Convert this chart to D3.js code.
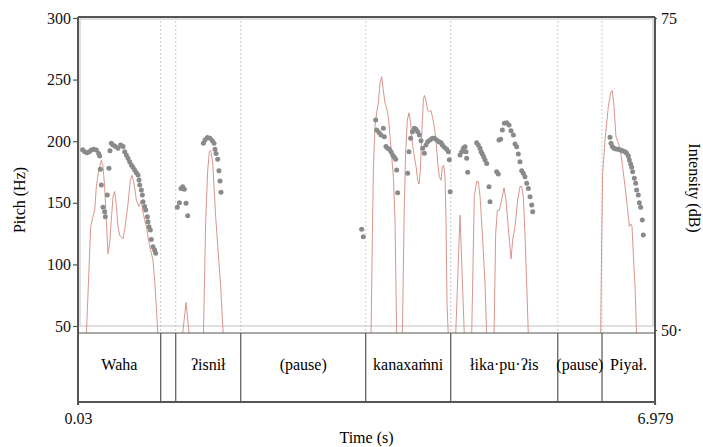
<!DOCTYPE html>
<html lang="en">
<head>
<meta charset="utf-8">
<title>Pitch and intensity</title>
<script src="https://d3js.org/d3.v7.min.js"></script>
<style>
    body { margin: 0; background: #fff; }
    svg { display: block; }
    svg text { font-family: "Liberation Serif", "DejaVu Serif", serif; }
</style>
</head>
<body>
<svg width="703" height="447"></svg>
<script>

// axis ticks
const pitchTicks = [50, 100, 150, 200, 250, 300];
const intensityTicks = [50, 75];
const timeTicks = [0.03, 6.979];

// word tier: interval ends (s) and labels (second interval is empty)
const boundaries = [1.026, 1.207, 1.99, 3.495, 4.519, 5.808, 6.341];
const words = ["Waha", "", "ʔisnił", "(pause)", "kanaxaṁni", "łika·pu·ʔis", "(pause)", "Piyał."];

// pitch points [time s, Hz]
const pitch = [
    [0.086,193],[0.110,191.5],[0.138,190.7],[0.166,191.5],[0.191,192.8],[0.219,193.4],[0.251,192.8],
    [0.279,190.1],[0.291,188],[0.299,177.2],[0.311,164.4],[0.331,146.3],[0.351,142.8],[0.359,138.7],
    [0.383,156.3],[0.403,178],
    [0.415,192.3],[0.431,198.3],[0.452,196.9],[0.480,195.6],[0.512,194.2],[0.544,196.9],[0.572,195.6],
    [0.592,191.5],[0.612,188.8],[0.632,186.1],[0.652,183.4],[0.672,180.7],[0.692,178.8],[0.712,176.6],
    [0.733,174.4],[0.753,172.6],[0.765,168.5],[0.773,164.4],[0.793,160.4],[0.805,156.3],[0.813,150.9],
    [0.833,146.9],[0.845,144.2],[0.865,138.7],[0.873,134.7],[0.885,130.6],[0.901,127.9],[0.913,120.3],
    [0.933,114.4],[0.953,111.7],[0.965,109],
    [1.226,146.3],[1.251,150.1],[1.271,161.7],[1.291,163.1],[1.311,160.9],[1.331,149.6],[1.351,139.5],
    [1.540,198.3],[1.560,201],[1.588,203.1],[1.620,202.3],[1.648,200.4],[1.668,198.3],[1.680,193.4],
    [1.692,190.1],[1.712,185.3],[1.728,176.1],[1.740,167.7],[1.752,158.5],
    [3.446,128.5],[3.466,122.5],
    [3.615,217.2],[3.627,209.1],[3.655,207],[3.679,205],[3.707,210.5],[3.719,203.7],[3.739,195.6],
    [3.759,194.2],[3.779,193.4],[3.800,191.5],[3.820,188.8],[3.840,186.9],[3.856,185.3],[3.868,176.6],
    [3.880,158.2],
    [4.000,173.9],[4.016,191.5],[4.036,202.3],[4.057,207.7],[4.081,210.5],[4.101,209.6],[4.121,207.7],
    [4.141,205],[4.161,200.4],[4.181,194.2],[4.201,190.2],[4.221,196.9],[4.241,199.6],[4.269,201],
    [4.297,202.3],[4.321,202.3],[4.350,201],[4.378,199.6],[4.402,198.8],[4.418,196.9],[4.442,195],
    [4.470,193.4],[4.490,191.5],[4.502,185],[4.512,159],
    [4.631,188.8],[4.651,191.5],[4.671,194.2],[4.691,195.5],[4.703,191.5],[4.711,186.1],[4.723,174.7],
    [4.831,198.8],[4.851,196.9],[4.872,194.2],[4.884,191.5],[4.900,189.6],[4.916,187.4],[4.932,184.7],
    [4.952,182],[4.980,163],[4.992,150.9],
    [5.072,175.2],[5.092,173.3],[5.100,201],[5.120,201.5],[5.141,209.1],[5.165,214.5],[5.193,215],
    [5.221,213.1],[5.245,208.5],[5.273,205],[5.293,197.7],[5.313,195.5],[5.333,189.6],[5.353,183.3],
    [5.373,176],[5.393,173.9],[5.413,171.2],[5.434,165.8],[5.454,161.7],[5.474,154.9],[5.494,148.2],
    [5.506,142.8],
    [6.437,203.2],[6.449,198.3],[6.465,195.6],[6.485,194.2],[6.509,193.7],[6.537,193.4],[6.565,192.9],
    [6.589,192.3],[6.618,191.5],[6.638,190.2],[6.658,188],[6.670,184.8],[6.686,181.5],[6.698,178.8],
    [6.710,175.3],[6.730,169.9],[6.746,165.8],[6.758,160.4],[6.778,156.4],[6.790,150.1],[6.806,146.3],
    [6.826,136.1],[6.838,123.9]
];

// intensity contour [time s, dB]
const intensity = [
    [0.130,49.5],[0.183,58.3],[0.211,59.1],[0.231,59.6],[0.251,61.5],[0.279,62.8],[0.311,63.6],
    [0.331,63.1],[0.351,61.5],[0.371,58.8],[0.391,56.1],[0.411,56.9],[0.431,58.8],[0.452,60.7],
    [0.472,61.1],[0.492,59.9],[0.512,58.3],[0.532,57.6],[0.572,57.3],[0.592,58.0],[0.632,60.1],
    [0.660,62.0],[0.680,62.4],[0.704,61.8],[0.733,60.4],[0.765,59.9],[0.793,60.4],[0.813,59.4],
    [0.853,58.3],[0.893,56.7],[0.933,55.6],[0.953,54.0],[0.973,51.9],[0.993,49.5],
    [1.287,49.5],[1.331,52.2],[1.371,49.5],
    [1.540,49.5],[1.568,58.8],[1.592,62.8],[1.612,64.3],[1.628,64.4],[1.652,63.4],[1.668,61.5],
    [1.688,59.1],[1.720,56.1],[1.748,53.5],[1.780,49.5],
    [3.559,49.5],[3.575,57.5],[3.587,62.8],[3.607,66.3],[3.627,67.4],[3.647,68.2],[3.667,69.8],
    [3.687,70.3],[3.707,69.2],[3.727,68.2],[3.747,67.8],[3.767,67.1],[3.788,65.5],[3.808,63.9],
    [3.828,62.3],[3.848,58.8],[3.868,49.5],
    [3.936,49.5],[3.960,60.1],[3.976,64.2],[3.996,66.8],[4.016,67.4],[4.036,66.6],[4.057,64.9],
    [4.081,63.9],[4.101,63.1],[4.121,62.0],[4.137,61.7],[4.153,62.8],[4.169,65.5],[4.189,68.4],
    [4.201,68.8],[4.221,68.4],[4.241,67.6],[4.257,67.5],[4.281,67.6],[4.301,67.0],[4.321,66.3],
    [4.342,65.2],[4.362,63.4],[4.382,62.3],[4.402,62.0],[4.418,63.1],[4.434,63.2],[4.450,62.3],
    [4.462,58.8],[4.474,52.1],[4.490,49.5],
    [4.578,49.5],[4.631,59.2],[4.683,49.5],
    [4.771,49.5],[4.803,60.7],[4.831,61.9],[4.851,61.9],[4.872,60.7],[4.900,57.7],[4.932,53.7],[4.952,49.5],
    [5.040,49.5],[5.060,57.7],[5.080,59.6],[5.104,59.6],[5.132,60.4],[5.161,61.4],[5.185,60.4],
    [5.205,58.8],[5.225,57.2],[5.245,55.7],[5.265,57.2],[5.293,58.3],[5.325,60.4],[5.353,61.5],
    [5.373,61.5],[5.393,60.7],[5.413,57.7],[5.434,53.7],[5.454,49.5],
    [6.324,49.5],[6.336,56.7],[6.349,62.6],[6.377,65.2],[6.417,67.9],[6.445,69.0],[6.465,69.2],
    [6.485,67.9],[6.509,65.5],[6.537,65.0],[6.565,64.3],[6.589,63.1],[6.618,61.5],[6.646,59.9],
    [6.670,58.3],[6.686,58.5],[6.702,58.3],[6.718,56.1],[6.738,53.5],[6.758,49.5]
];

const mLeft = 78, mRight = 655, mTop = 17, plotBottom = 333, tierBottom = 402;
const serif = "'Liberation Serif', 'DejaVu Serif', serif";

const svg = d3.select("svg");

const x = d3.scaleLinear().domain([0.03, 6.979]).range([mLeft, mRight]);
const yPitch = d3.scaleLinear().domain([50, 300]).range([326, 18]);
const yInt = d3.scaleLinear().domain([50, 75]).range([330, 18]);

svg.append("defs").append("clipPath").attr("id", "plotclip")
    .append("rect")
    .attr("x", mLeft).attr("y", mTop)
    .attr("width", mRight - mLeft).attr("height", plotBottom - mTop);

// light inner frame
svg.append("rect")
    .attr("x", mLeft + 2).attr("y", mTop + 2)
    .attr("width", mRight - mLeft - 4).attr("height", yPitch(50) - mTop - 2)
    .style("fill", "none").style("stroke", "#d6d6d6").style("stroke-width", 1.5);

// dotted boundary lines in plot
svg.selectAll("line.bound")
    .data(boundaries)
    .join("line")
    .attr("class", "bound")
    .attr("x1", d => x(d)).attr("x2", d => x(d))
    .attr("y1", mTop).attr("y2", plotBottom)
    .style("stroke", "#bbb").style("stroke-width", 1)
    .style("stroke-dasharray", "1.5,2.5");

const plot = svg.append("g").attr("clip-path", "url(#plotclip)");

plot.append("path")
    .datum(intensity)
    .attr("d", d3.line().x(d => x(d[0])).y(d => yInt(d[1])))
    .style("fill", "none")
    .style("stroke", "#d48a80")
    .style("stroke-width", 0.9);

plot.selectAll("circle")
    .data(pitch)
    .join("circle")
    .attr("cx", d => x(d[0]))
    .attr("cy", d => yPitch(d[1]))
    .attr("r", 2.5)
    .style("fill", "#8a8a8a");

// tier
svg.selectAll("line.tier")
    .data(boundaries)
    .join("line")
    .attr("class", "tier")
    .attr("x1", d => x(d)).attr("x2", d => x(d))
    .attr("y1", plotBottom).attr("y2", tierBottom)
    .style("stroke", "#555").style("stroke-width", 1.2);

const starts = [0.03].concat(boundaries);
const ends = boundaries.concat([6.979]);
svg.selectAll("text.word")
    .data(words)
    .join("text")
    .attr("class", "word")
    .attr("x", (d, i) => (x(starts[i]) + x(ends[i])) / 2)
    .attr("y", 370)
    .attr("text-anchor", "middle")
    .attr("font-family", serif)
    .style("font-size", "16px")
    .text(d => d);

// frame
const frame = svg.append("g").style("stroke", "#555").style("fill", "none");
frame.append("line").attr("x1", mLeft).attr("x2", mRight).attr("y1", mTop).attr("y2", mTop).style("stroke-width", 2);
frame.append("line").attr("x1", mLeft).attr("x2", mRight).attr("y1", plotBottom).attr("y2", plotBottom).style("stroke-width", 1.2);
frame.append("line").attr("x1", mLeft).attr("x2", mRight).attr("y1", tierBottom).attr("y2", tierBottom).style("stroke-width", 2);
frame.append("line").attr("x1", mLeft).attr("x2", mLeft).attr("y1", mTop).attr("y2", tierBottom + 3).style("stroke-width", 2);
frame.append("line").attr("x1", mRight).attr("x2", mRight).attr("y1", mTop).attr("y2", tierBottom + 3).style("stroke-width", 2);

// axes
function styleAxis(g) {
    g.attr("font-family", serif).attr("font-size", 16);
    g.select(".domain").remove();
    g.selectAll(".tick line").style("stroke", "#555").style("stroke-width", 1.2);
    g.selectAll(".tick text").style("fill", "#111");
}

svg.append("g")
    .attr("transform", `translate(${mLeft},0)`)
    .call(d3.axisLeft(yPitch).tickValues(pitchTicks).tickSize(5).tickPadding(2))
    .call(styleAxis);

svg.append("g")
    .attr("transform", `translate(${mRight},0)`)
    .call(d3.axisRight(yInt).tickValues(intensityTicks).tickSize(2).tickPadding(4)
        .tickFormat(d => d === 50 ? "50·" : d))
    .call(styleAxis);

svg.append("g")
    .attr("transform", `translate(0,${tierBottom})`)
    .call(d3.axisBottom(x).tickValues(timeTicks).tickSize(3).tickPadding(8)
        .tickFormat(d => String(d)))
    .call(styleAxis);

// axis titles
svg.append("text")
    .attr("transform", "translate(25,200) rotate(-90)")
    .attr("text-anchor", "middle")
    .attr("font-family", serif)
    .style("font-size", "16px")
    .text("Pitch (Hz)");

svg.append("text")
    .attr("transform", "translate(689,188) rotate(90)")
    .attr("text-anchor", "middle")
    .attr("font-family", serif)
    .style("font-size", "16px")
    .text("Intensity (dB)");

svg.append("text")
    .attr("x", (mLeft + mRight) / 2)
    .attr("y", 443)
    .attr("text-anchor", "middle")
    .attr("font-family", serif)
    .style("font-size", "16px")
    .text("Time (s)");

</script>
</body>
</html>
